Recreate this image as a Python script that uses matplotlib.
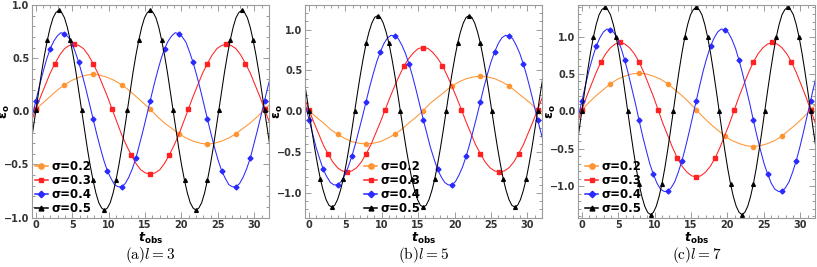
import numpy as np
import matplotlib
matplotlib.use('Agg')
import matplotlib.pyplot as plt
from matplotlib.ticker import MultipleLocator
from matplotlib.lines import Line2D

# curves are sampled every pi/16 of phase (sigma*t); index 0 is t = 0
labels = ['σ=0.2', 'σ=0.3', 'σ=0.4', 'σ=0.5']
colors = ['#FF9433', '#FF2222', '#2A2AFF', '#000000']
markers = ['o', 's', 'D', '^']
msizes = [3.0, 2.4, 2.5, 2.7]
first_index = [-1, -1, -2, -2]
last_index = [33, 49, 66, 82]
t_step = [np.pi / 3.2, np.pi / 4.8, np.pi / 6.4, np.pi / 8.0]

# panel (a) l = 3
orange_a = [-0.05,
            0.02, 0.08, 0.14, 0.20, 0.25, 0.29, 0.32, 0.34, 0.35, 0.34, 0.32, 0.29, 0.25, 0.20, 0.14, 0.08,
            0.02, -0.05, -0.11, -0.16, -0.21, -0.25, -0.28, -0.30, -0.31, -0.30, -0.28, -0.25, -0.21, -0.16, -0.11, -0.05,
            0.02, 0.08]
red_a = [-0.10,
         0.02, 0.14, 0.25, 0.36, 0.45, 0.53, 0.59, 0.62, 0.63, 0.62, 0.59, 0.53, 0.45, 0.36, 0.25, 0.14,
         0.02, -0.10, -0.22, -0.32, -0.41, -0.49, -0.55, -0.58, -0.59, -0.58, -0.55, -0.49, -0.41, -0.32, -0.22, -0.10,
         0.02, 0.14, 0.25, 0.36, 0.45, 0.53, 0.59, 0.62, 0.63, 0.62, 0.59, 0.53, 0.45, 0.36, 0.25, 0.14,
         0.02, -0.10]
blue_a = [-0.18, -0.04,
          0.10, 0.24, 0.37, 0.49, 0.59, 0.66, 0.71, 0.74, 0.73, 0.70, 0.65, 0.56, 0.46, 0.34, 0.21, 0.07,
          -0.07, -0.21, -0.34, -0.46, -0.56, -0.63, -0.69, -0.71, -0.71, -0.68, -0.62, -0.54, -0.44, -0.31, -0.18, -0.04,
          0.10, 0.24, 0.37, 0.49, 0.59, 0.66, 0.71, 0.74, 0.73, 0.70, 0.65, 0.56, 0.46, 0.34, 0.21, 0.07,
          -0.07, -0.21, -0.34, -0.46, -0.56, -0.63, -0.69, -0.71, -0.71, -0.68, -0.62, -0.54, -0.44, -0.31, -0.18, -0.04,
          0.10, 0.24, 0.37]
black_a = [-0.35, -0.17,
           0.01, 0.19, 0.37, 0.53, 0.67, 0.79, 0.88, 0.93, 0.95, 0.93, 0.88, 0.79, 0.67, 0.53, 0.37, 0.19,
           0.01, -0.17, -0.35, -0.51, -0.65, -0.77, -0.86, -0.91, -0.93, -0.91, -0.86, -0.77, -0.65, -0.51, -0.35, -0.17,
           0.01, 0.19, 0.37, 0.53, 0.67, 0.79, 0.88, 0.93, 0.95, 0.93, 0.88, 0.79, 0.67, 0.53, 0.37, 0.19,
           0.01, -0.17, -0.35, -0.51, -0.65, -0.77, -0.86, -0.91, -0.93, -0.91, -0.86, -0.77, -0.65, -0.51, -0.35, -0.17,
           0.01, 0.19, 0.37, 0.53, 0.67, 0.79, 0.88, 0.93, 0.95, 0.93, 0.88, 0.79, 0.67, 0.53, 0.37, 0.19,
           0.01, -0.17, -0.35]

# panel (b) l = 5
orange_b = [0.10,
            0.01, -0.07, -0.14, -0.22, -0.28, -0.33, -0.37, -0.39, -0.40, -0.39, -0.37, -0.33, -0.28, -0.22, -0.14, -0.07,
            0.01, 0.10, 0.17, 0.24, 0.31, 0.36, 0.40, 0.42, 0.43, 0.42, 0.40, 0.36, 0.31, 0.24, 0.17, 0.10,
            0.01, -0.07]
red_b = [0.17,
         0.02, -0.13, -0.27, -0.41, -0.52, -0.62, -0.69, -0.73, -0.74, -0.73, -0.69, -0.62, -0.52, -0.41, -0.27, -0.13,
         0.02, 0.17, 0.31, 0.44, 0.56, 0.65, 0.72, 0.77, 0.78, 0.77, 0.72, 0.65, 0.56, 0.44, 0.31, 0.17,
         0.02, -0.13, -0.27, -0.41, -0.52, -0.62, -0.69, -0.73, -0.74, -0.73, -0.69, -0.62, -0.52, -0.41, -0.27, -0.13,
         0.02, 0.17]
blue_b = [0.26, 0.08,
          -0.10, -0.27, -0.44, -0.58, -0.71, -0.80, -0.87, -0.90, -0.90, -0.86, -0.78, -0.68, -0.55, -0.40, -0.23, -0.06,
          0.12, 0.30, 0.46, 0.61, 0.73, 0.83, 0.90, 0.93, 0.92, 0.89, 0.81, 0.71, 0.58, 0.43, 0.26, 0.08,
          -0.10, -0.27, -0.44, -0.58, -0.71, -0.80, -0.87, -0.90, -0.90, -0.86, -0.78, -0.68, -0.55, -0.40, -0.23, -0.06,
          0.12, 0.30, 0.46, 0.61, 0.73, 0.83, 0.90, 0.93, 0.92, 0.89, 0.81, 0.71, 0.58, 0.43, 0.26, 0.08,
          -0.10, -0.27, -0.44]
black_b = [0.45, 0.23,
           0.00, -0.23, -0.45, -0.65, -0.83, -0.97, -1.08, -1.15, -1.17, -1.15, -1.08, -0.97, -0.83, -0.65, -0.45, -0.23,
           0.00, 0.23, 0.45, 0.65, 0.83, 0.97, 1.08, 1.15, 1.17, 1.15, 1.08, 0.97, 0.83, 0.65, 0.45, 0.23,
           0.00, -0.23, -0.45, -0.65, -0.83, -0.97, -1.08, -1.15, -1.17, -1.15, -1.08, -0.97, -0.83, -0.65, -0.45, -0.23,
           0.00, 0.23, 0.45, 0.65, 0.83, 0.97, 1.08, 1.15, 1.17, 1.15, 1.08, 0.97, 0.83, 0.65, 0.45, 0.23,
           0.00, -0.23, -0.45, -0.65, -0.83, -0.97, -1.08, -1.15, -1.17, -1.15, -1.08, -0.97, -0.83, -0.65, -0.45, -0.23,
           0.00, 0.23, 0.45]

# panel (c) l = 7
orange_c = [-0.08,
            0.02, 0.12, 0.21, 0.29, 0.37, 0.43, 0.47, 0.50, 0.51, 0.50, 0.47, 0.43, 0.37, 0.29, 0.21, 0.12,
            0.02, -0.08, -0.17, -0.25, -0.33, -0.39, -0.43, -0.46, -0.47, -0.46, -0.43, -0.39, -0.33, -0.25, -0.17, -0.08,
            0.02, 0.12]
red_c = [-0.16,
         0.02, 0.20, 0.36, 0.52, 0.66, 0.77, 0.85, 0.90, 0.92, 0.90, 0.85, 0.77, 0.66, 0.52, 0.36, 0.20,
         0.02, -0.16, -0.32, -0.48, -0.62, -0.73, -0.81, -0.86, -0.88, -0.86, -0.81, -0.73, -0.62, -0.48, -0.32, -0.16,
         0.02, 0.20, 0.36, 0.52, 0.66, 0.77, 0.85, 0.90, 0.92, 0.90, 0.85, 0.77, 0.66, 0.52, 0.36, 0.20,
         0.02, -0.16]
blue_c = [-0.28, -0.07,
          0.14, 0.35, 0.55, 0.72, 0.87, 0.98, 1.06, 1.10, 1.09, 1.05, 0.96, 0.84, 0.68, 0.50, 0.30, 0.10,
          -0.12, -0.33, -0.52, -0.70, -0.84, -0.96, -1.04, -1.07, -1.07, -1.02, -0.94, -0.81, -0.66, -0.48, -0.28, -0.07,
          0.14, 0.35, 0.55, 0.72, 0.87, 0.98, 1.06, 1.10, 1.09, 1.05, 0.96, 0.84, 0.68, 0.50, 0.30, 0.10,
          -0.12, -0.33, -0.52, -0.70, -0.84, -0.96, -1.04, -1.07, -1.07, -1.02, -0.94, -0.81, -0.66, -0.48, -0.28, -0.07,
          0.14, 0.35, 0.55]
black_c = [-0.52, -0.26,
           0.01, 0.28, 0.54, 0.78, 0.99, 1.16, 1.29, 1.36, 1.39, 1.36, 1.29, 1.16, 0.99, 0.78, 0.54, 0.28,
           0.01, -0.26, -0.52, -0.76, -0.97, -1.14, -1.27, -1.35, -1.38, -1.35, -1.27, -1.14, -0.97, -0.76, -0.52, -0.26,
           0.01, 0.28, 0.54, 0.78, 0.99, 1.16, 1.29, 1.36, 1.39, 1.36, 1.29, 1.16, 0.99, 0.78, 0.54, 0.28,
           0.01, -0.26, -0.52, -0.76, -0.97, -1.14, -1.27, -1.35, -1.38, -1.35, -1.27, -1.14, -0.97, -0.76, -0.52, -0.26,
           0.01, 0.28, 0.54, 0.78, 0.99, 1.16, 1.29, 1.36, 1.39, 1.36, 1.29, 1.16, 0.99, 0.78, 0.54, 0.28,
           0.01, -0.26, -0.52]

panels = [[orange_a, red_a, blue_a, black_a],
          [orange_b, red_b, blue_b, black_b],
          [orange_c, red_c, blue_c, black_c]]
captions = [r'$\mathrm{(a)}l=3$', r'$\mathrm{(b)}l=5$', r'$\mathrm{(c)}l=7$']
ylims = [1.0, 1.3, 1.42]
legend_x = [0.0, 0.24, 0.02]

fig = plt.figure(figsize=(8.17, 2.67), dpi=100)
lefts = [0.0395, 0.3737, 0.7078]

for p in range(3):
    ax = fig.add_axes([lefts[p], 0.185, 0.2895, 0.796])
    handles = []
    for i in range(4):
        t = np.arange(first_index[i], last_index[i] + 1) * t_step[i]
        ax.plot(t, panels[p][i], color=colors[i], lw=0.75, marker=markers[i],
                ms=msizes[i], markevery=(-first_index[i], 4), mec=colors[i])
        handles.append(Line2D([], [], color=colors[i], lw=1.1, marker=markers[i],
                              ms=msizes[i] + 0.8, mec=colors[i]))
    ax.set_xlim(-0.5, 32)
    ax.set_ylim(-ylims[p], ylims[p])
    ax.xaxis.set_major_locator(MultipleLocator(5))
    ax.xaxis.set_minor_locator(MultipleLocator(1))
    ax.yaxis.set_major_locator(MultipleLocator(0.5))
    ax.yaxis.set_minor_locator(MultipleLocator(0.1))
    ax.tick_params(which='both', direction='in', top=True, right=True,
                   color='#8a8a8a', width=0.6, labelsize=7, pad=2)
    ax.tick_params(axis='x', pad=1.5)
    ax.tick_params(which='major', length=4)
    ax.tick_params(which='minor', length=2)
    for lab in ax.get_xticklabels() + ax.get_yticklabels():
        lab.set_fontweight('bold')
        lab.set_color('#333333')
    for s in ax.spines.values():
        s.set_color('#9a9a9a')
        s.set_linewidth(0.8)
    ax.set_xlabel(r'$\boldsymbol{t}_{\mathbf{obs}}$', fontsize=9)
    ax.xaxis.set_label_coords(0.5, -0.062)
    ax.set_ylabel(r'$\boldsymbol{\varepsilon}_{\mathbf{o}}$', fontsize=9)
    ax.yaxis.set_label_coords(-0.085, 0.5)
    ax.legend(handles, labels, loc='lower left', bbox_to_anchor=(legend_x[p], 0.0),
              frameon=False, handlelength=1.1, handletextpad=0.3, labelspacing=0.1,
              borderaxespad=0.1, borderpad=0.1, prop={'weight': 'bold', 'size': 8.5})
    fig.text(lefts[p] + 0.2895 / 2, 0.03, captions[p], ha='center', va='baseline',
             fontsize=11, math_fontfamily='cm')

fig.savefig('out.png', dpi=100)
